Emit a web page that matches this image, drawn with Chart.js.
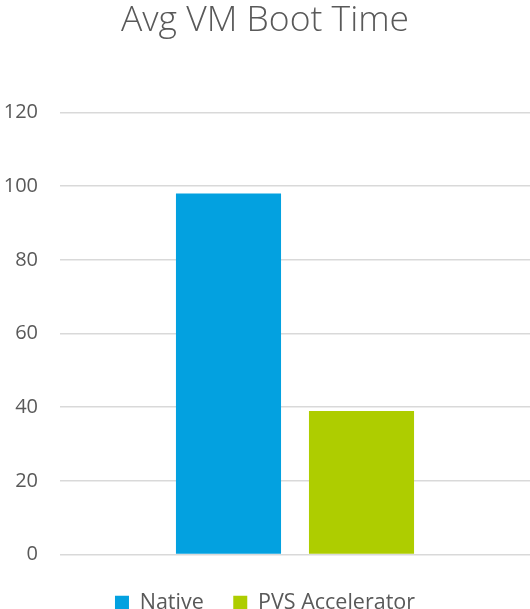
<!DOCTYPE html>
<html>
<head>
<meta charset="utf-8">
<script src="https://cdn.jsdelivr.net/npm/chart.js@4"></script>
<style>
html,body{margin:0;padding:0;background:#fff;}
#wrap{width:530px;height:609px;position:relative;}
</style>
</head>
<body>
<div id="wrap"><canvas id="c"></canvas></div>
<script>
const categories = ["Avg VM Boot Time"];
const seriesNames = ["Native", "PVS Accelerator"];
const nativeValues = [98];
const pvsValues = [39];
const yTicks = [0, 20, 40, 60, 80, 100, 120];

const textColor = "#595959";
const fontFam = "'Open Sans', 'Noto Sans', sans-serif";

new Chart(document.getElementById('c'), {
  type: 'bar',
  data: {
    labels: categories,
    datasets: [
      { label: seriesNames[0], data: nativeValues, backgroundColor: '#03A1E0', borderWidth: 0,
        categoryPercentage: 0.566, barPercentage: 0.79 },
      { label: seriesNames[1], data: pvsValues, backgroundColor: '#AECD00', borderWidth: 0,
        categoryPercentage: 0.566, barPercentage: 0.79 }
    ]
  },
  options: {
    responsive: true,
    maintainAspectRatio: false,
    animation: false,
    layout: { padding: { left: 0, right: 0, top: 0, bottom: -14.5 } },
    plugins: {
      title: {
        display: true,
        text: categories[0],
        color: textColor,
        font: { family: fontFam, size: 35.5, weight: '300' },
        padding: { top: 0, bottom: 70 }
      },
      legend: {
        position: 'bottom',
        labels: {
          color: textColor,
          font: { family: fontFam, size: 21.5 },
          boxWidth: 14,
          boxHeight: 14,
          padding: 29.5
        }
      },
      tooltip: { enabled: false }
    },
    scales: {
      x: {
        ticks: { display: false },
        grid: { display: false },
        border: { display: false }
      },
      y: {
        min: 0,
        max: 120,
        afterBuildTicks: (axis) => { axis.ticks = yTicks.map(v => ({ value: v })); },
        afterFit: (axis) => { axis.width = 60; },
        ticks: {
          color: textColor,
          font: { family: fontFam, size: 20 },
          padding: 22
        },
        grid: { color: '#d9d9d9', lineWidth: 1.5, drawTicks: false },
        border: { display: false }
      }
    }
  }
});
</script>
</body>
</html>
